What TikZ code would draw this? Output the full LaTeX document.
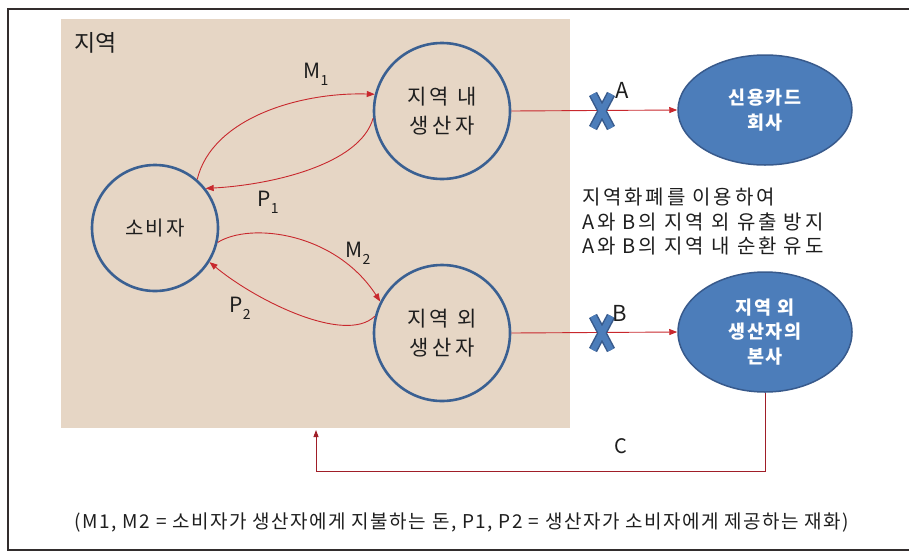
\documentclass[tikz,border=0pt]{standalone}
\usepackage{fontspec}
\setmainfont{Noto Sans CJK KR}
\usetikzlibrary{arrows.meta,shapes.geometric}
\definecolor{beige}{RGB}{230,214,197}
\definecolor{circblue}{RGB}{58,96,146}
\definecolor{ellfill}{RGB}{76,125,186}
\definecolor{elldraw}{RGB}{56,90,140}
\definecolor{arrred}{RGB}{200,40,45}
\definecolor{darkred}{RGB}{160,30,40}
\definecolor{framegray}{RGB}{50,45,45}
\definecolor{txt}{RGB}{30,30,30}
\newcommand\sbs[1]{\raisebox{-7pt}{\fontsize{14}{14}\selectfont #1}}
\begin{document}
\begin{tikzpicture}[x=1pt,y=-1pt,
  circ/.style={circle,draw=circblue,line width=2.6pt,fill=none,align=center,
    font=\fontsize{21}{29}\selectfont\addfontfeature{LetterSpace=16},text=txt,inner sep=0pt},
  ell/.style={ellipse,draw=elldraw,line width=1.5pt,fill=ellfill,align=center,
    font=\fontsize{18.5}{24.5}\selectfont\bfseries\addfontfeature{LetterSpace=9},text=white,inner sep=0pt},
  redarr/.style={draw=arrred,line width=0.9pt,-{Triangle[length=8pt,width=6pt]}},
  lbl/.style={font=\fontsize{21}{22}\selectfont,text=txt,inner sep=0pt},
  xout/.style={line width=9pt,draw=elldraw},
  xin/.style={line width=6pt,draw=ellfill}]
\useasboundingbox (0,0) rectangle (909,552);
\draw[line width=2pt,framegray] (8,9) rectangle (912,550);
\fill[beige] (61,19) rectangle (570,428);
\node[font=\fontsize{23}{23}\selectfont,text=txt,inner sep=0pt,anchor=west] (region) at (74,43) {지역};
\node[circ,minimum size=126pt,font=\fontsize{20}{29}\selectfont\addfontfeature{LetterSpace=12}] (cons) at (155,228) {소비자};
\node[circ,minimum size=136pt] (inprod) at (442,111) {지역 내\\생산자};
\node[circ,minimum size=136pt] (outprod) at (442,333) {지역 외\\생산자};
\node[ell,minimum width=174pt,minimum height=110pt] (card) at (765,110) {신용카드\\회사};
\node[ell,minimum width=174pt,minimum height=120pt] (hq) at (765,332) {지역 외\\생산자의\\본사};
% money / goods flows
\draw[redarr] (cons.49) .. controls (212,118) and (300,92) .. (inprod.166);
\draw[redarr] (inprod.186) .. controls (360,165) and (270,185) .. (cons.38);
\draw[redarr] (cons.-13) .. controls (250,222) and (335,232) .. (outprod.153);
\draw[redarr] (outprod.166) .. controls (345,345) and (255,300) .. (cons.-32);
\node[lbl] (m1) at (316,74) {M\sbs{1}};
\node[lbl] (p1) at (268,202) {P\sbs{1}};
\node[lbl] (m2) at (358,253) {M\sbs{2}};
\node[lbl] (p2) at (240,308) {P\sbs{2}};
% outflows
\draw[redarr] (inprod.east) -- (card.west);
\draw[redarr] (outprod.east) -- (hq.west);
\foreach \cy in {111,333}{
  \draw[xout] (593,\cy-17) -- (611,\cy+17);
  \draw[xout] (611,\cy-17) -- (593,\cy+17);
  \draw[xin] (593,\cy-17) -- (611,\cy+17);
  \draw[xin] (611,\cy-17) -- (593,\cy+17);
}
\node[lbl,font=\fontsize{22}{22}\selectfont] (la) at (622,90) {A};
\node[lbl,font=\fontsize{22}{22}\selectfont] (lb) at (620,313) {B};
\node[anchor=west,align=left,font=\fontsize{20}{24.5}\selectfont\addfontfeature{LetterSpace=14},text=txt,inner sep=0pt] (note) at (582,222)
  {지역화폐를 이용하여\\A와 B의 지역 외 유출 방지\\A와 B의 지역 내 순환 유도};
% C
\coordinate (cCorner) at (316,471);
\coordinate (cEnd) at (316,430);
\draw[draw=darkred,line width=0.9pt,-{Triangle[length=7pt,width=5pt]}] (hq.south) |- (cCorner) -- (cEnd);
\node[lbl,font=\fontsize{20}{20}\selectfont] (lc) at (621,446) {C};
\node[font=\fontsize{19}{20}\selectfont\addfontfeature{LetterSpace=8},text=txt,inner sep=0pt] (legend) at (462,522)
  {(M1, M2 = 소비자가 생산자에게 지불하는 돈, P1, P2 = 생산자가 소비자에게 제공하는 재화)};
\end{tikzpicture}
\end{document}
